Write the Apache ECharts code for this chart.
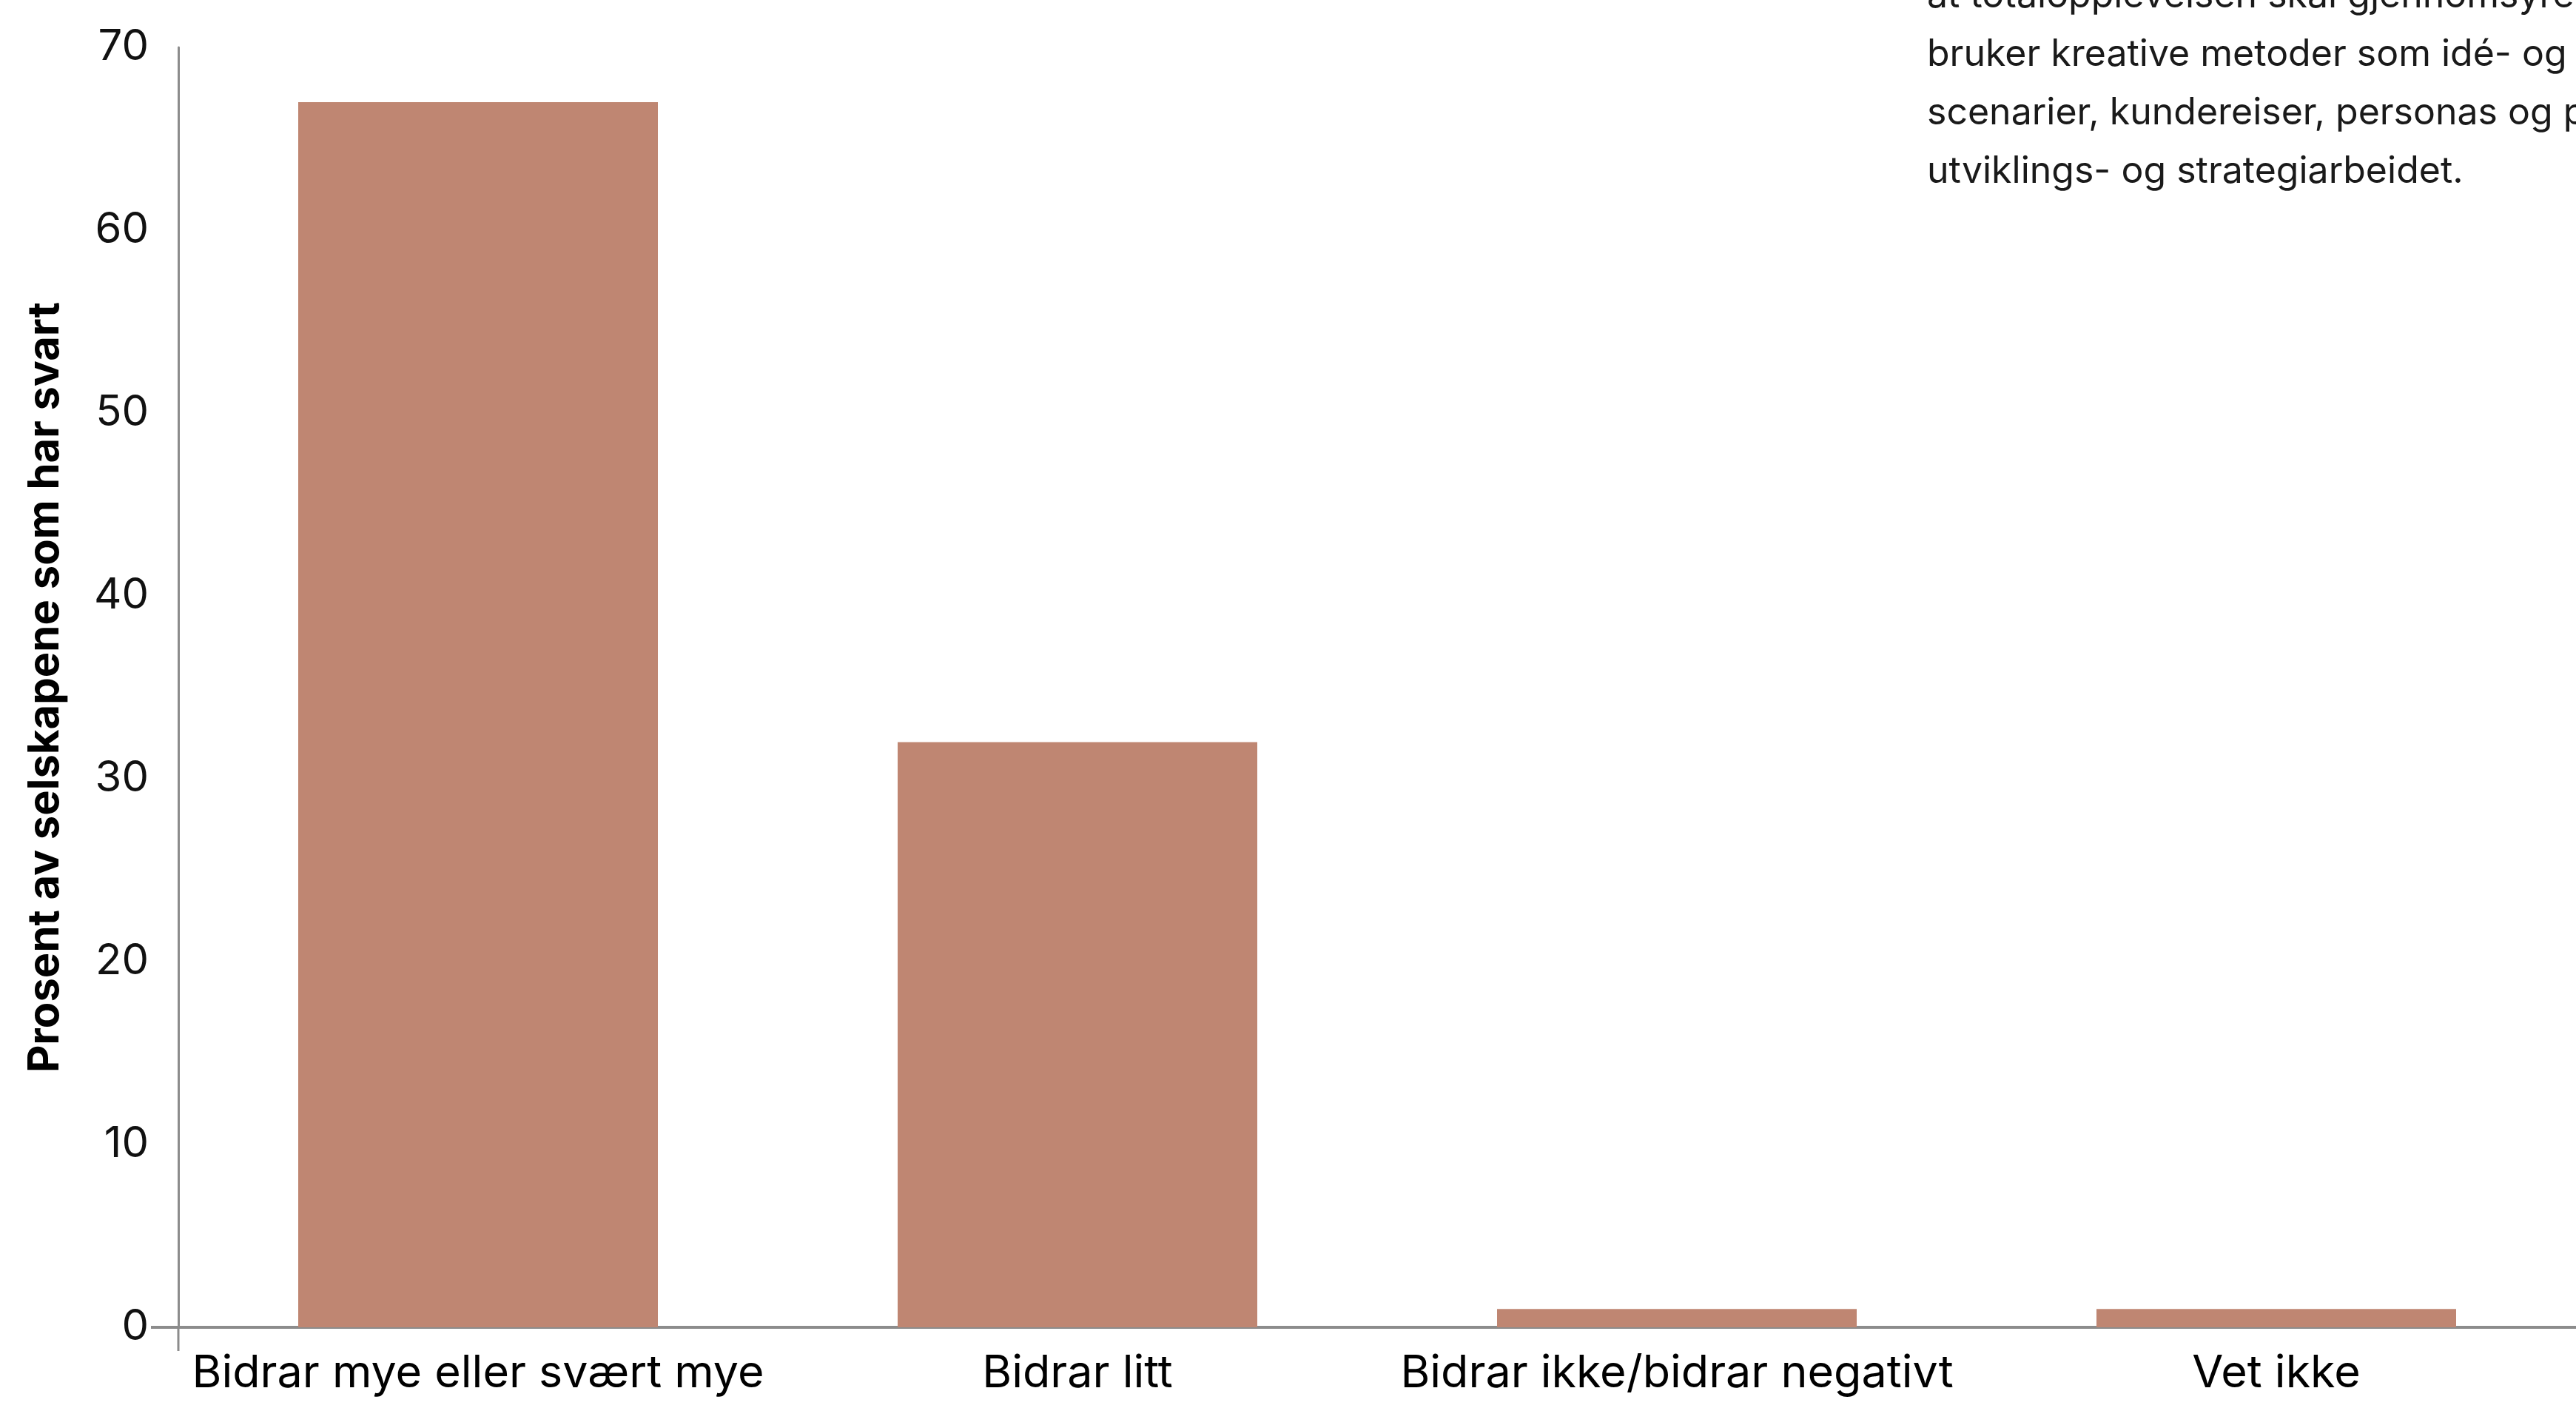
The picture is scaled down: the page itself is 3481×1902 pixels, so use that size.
<!DOCTYPE html>
<html>
<head>
<meta charset="utf-8">
<script src="https://cdn.jsdelivr.net/npm/echarts@6/dist/echarts.min.js"></script>
<style>
  html, body { margin: 0; padding: 0; background: #ffffff; }
  #chart { width: 3481px; height: 1902px; }
</style>
</head>
<body>
<div id="chart"></div>
<script>
// Survey answers: share of companies per response option (percent)
const categories = [
  'Bidrar mye eller svært mye',
  'Bidrar litt',
  'Bidrar ikke/bidrar negativt',
  'Vet ikke'
];
const shares = [67, 32, 1, 1];
const yTicks = { min: 0, max: 70, interval: 10 };
const yAxisTitle = 'Prosent av selskapene som har svart';
const noteLines = [
  'at totalopplevelsen skal gjennomsyre',
  'bruker kreative metoder som idé- og',
  'scenarier, kundereiser, personas og prototyper',
  'utviklings- og strategiarbeidet.'
];

const FONT = 'Inter, "Open Sans", sans-serif';
const AXIS_GREY = '#8c8c8c';
const BAR = '#bf8672';

const chart = echarts.init(document.getElementById('chart'), null, { renderer: 'canvas' });

const option = {
  backgroundColor: '#ffffff',
  animation: false,
  grid: { left: 241, right: 0, top: 64, bottom: 109, containLabel: false },
  xAxis: {
    type: 'category',
    data: categories,
    axisLine: { show: true, lineStyle: { color: AXIS_GREY, width: 4 } },
    axisTick: { show: false },
    axisLabel: {
      color: '#000000', fontFamily: FONT, fontSize: 61, margin: 32,
      interval: 0
    }
  },
  yAxis: {
    type: 'value',
    min: yTicks.min, max: yTicks.max, interval: yTicks.interval,
    name: yAxisTitle,
    nameLocation: 'middle',
    nameGap: 150,
    nameTextStyle: { color: '#000000', fontFamily: FONT, fontSize: 58, fontWeight: 'bold' },
    axisLine: { show: true, lineStyle: { color: AXIS_GREY, width: 3 } },
    axisTick: { show: false },
    splitLine: { show: false },
    axisLabel: { color: '#111111', fontFamily: FONT, fontSize: 58, margin: 40 }
  },
  series: [{
    type: 'bar',
    data: shares,
    barWidth: '60%',
    itemStyle: { color: BAR },
    z: 1
  }],
  graphic: noteLines.map((t, i) => ({
    type: 'text',
    left: 2604,
    top: -30 + i * 79,
    style: { text: t, fill: '#1a1a1a', font: '50px ' + FONT }
  }))
};

chart.setOption(option);

// Short extensions of both axis lines past the origin
const origin = chart.convertToPixel({ gridIndex: 0 }, [0, 0]);
const x0 = 241;
const y0 = origin[1];
chart.setOption({
  graphic: option.graphic.concat([
    { type: 'line', shape: { x1: x0 - 37, y1: y0, x2: x0, y2: y0 }, style: { stroke: AXIS_GREY, lineWidth: 4 } },
    { type: 'line', shape: { x1: x0, y1: y0, x2: x0, y2: y0 + 32 }, style: { stroke: AXIS_GREY, lineWidth: 3 } }
  ])
});
</script>
</body>
</html>
